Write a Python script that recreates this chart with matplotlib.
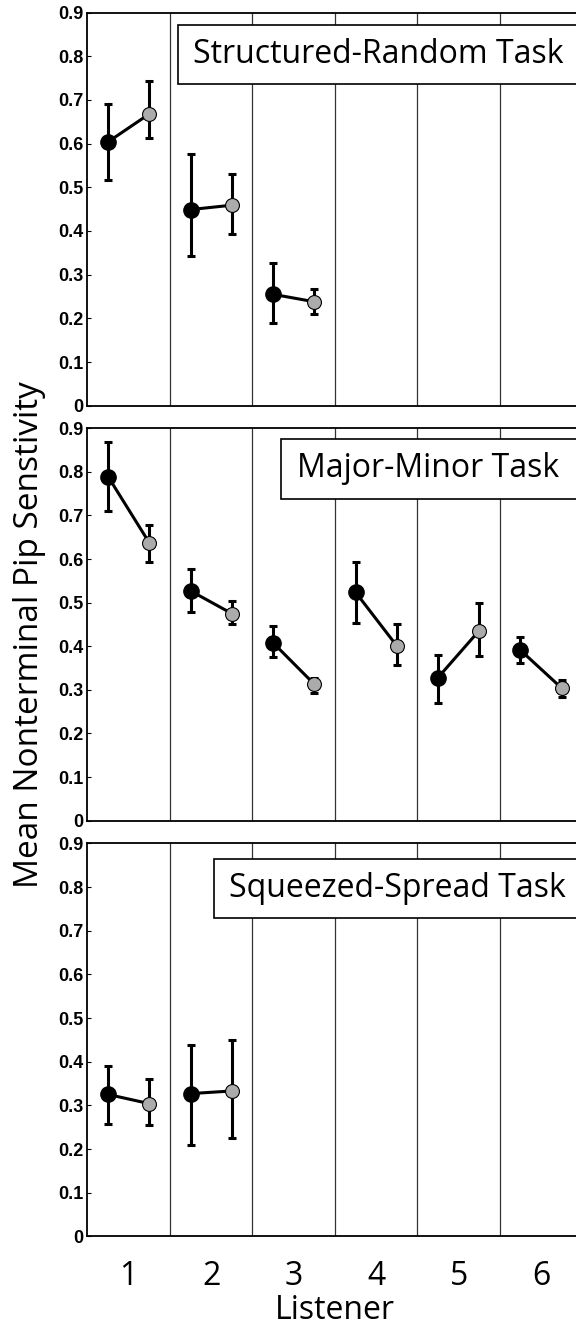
import matplotlib
matplotlib.use("Agg")
import matplotlib.pyplot as plt
from matplotlib.patches import Rectangle

# Listener numbers and task names
listeners = [1, 2, 3, 4, 5, 6]
tasks = ["Structured-Random Task", "Major-Minor Task", "Squeezed-Spread Task"]

# Structured-Random task (listeners 1-3)
sr_first = [0.604, 0.449, 0.255]
sr_first_lo = [0.516, 0.343, 0.189]
sr_first_hi = [0.691, 0.576, 0.326]
sr_second = [0.668, 0.459, 0.238]
sr_second_lo = [0.613, 0.393, 0.211]
sr_second_hi = [0.744, 0.530, 0.268]

# Major-Minor task (listeners 1-6)
mm_first = [0.789, 0.527, 0.408, 0.524, 0.328, 0.391]
mm_first_lo = [0.710, 0.479, 0.375, 0.453, 0.270, 0.361]
mm_first_hi = [0.868, 0.577, 0.447, 0.594, 0.379, 0.422]
mm_second = [0.637, 0.475, 0.313, 0.401, 0.436, 0.304]
mm_second_lo = [0.594, 0.450, 0.292, 0.356, 0.378, 0.284]
mm_second_hi = [0.679, 0.503, 0.328, 0.451, 0.499, 0.323]

# Squeezed-Spread task (listeners 1-2)
ss_first = [0.325, 0.327]
ss_first_lo = [0.258, 0.210]
ss_first_hi = [0.391, 0.438]
ss_second = [0.304, 0.333]
ss_second_lo = [0.255, 0.226]
ss_second_hi = [0.361, 0.450]

yticks = [0, 0.1, 0.2, 0.3, 0.4, 0.5, 0.6, 0.7, 0.8, 0.9]
ytick_labels = ["0", "0.1", "0.2", "0.3", "0.4", "0.5", "0.6", "0.7", "0.8", "0.9"]

panels = [
    (sr_first, sr_first_lo, sr_first_hi, sr_second, sr_second_lo, sr_second_hi),
    (mm_first, mm_first_lo, mm_first_hi, mm_second, mm_second_lo, mm_second_hi),
    (ss_first, ss_first_lo, ss_first_hi, ss_second, ss_second_lo, ss_second_hi),
]

# panel geometry: [left, bottom, width, height] in figure fractions
positions = [
    [0.1519, 0.6954, 0.859, 0.2952],
    [0.1519, 0.3839, 0.859, 0.2946],
    [0.1519, 0.0718, 0.859, 0.2950],
]
# label box: (box left, box bottom, box top, text left) in axes fractions
boxes = [
    (0.182, 0.818, 0.968, 0.213),
    (0.392, 0.820, 0.973, 0.423),
    (0.2556, 0.810, 0.960, 0.286),
]

label_font = "Open Sans"
off = 0.25

fig = plt.figure(figsize=(5.76, 13.32), dpi=100)

for i, (pdata, pos, bx, task) in enumerate(zip(panels, positions, boxes, tasks)):
    f, flo, fhi, s, slo, shi = pdata
    ax = fig.add_axes(pos)
    n = len(f)
    xs = listeners[:n]
    for k in range(n):
        x1 = xs[k] - off
        x2 = xs[k] + off
        ax.plot([x1, x2], [f[k], s[k]], color="black", lw=2.2, zorder=2)
        ax.errorbar([x1], [f[k]], yerr=[[f[k] - flo[k]], [fhi[k] - f[k]]],
                    fmt="none", ecolor="black", elinewidth=2.2, capsize=3.2,
                    capthick=2.2, zorder=3)
        ax.errorbar([x2], [s[k]], yerr=[[s[k] - slo[k]], [shi[k] - s[k]]],
                    fmt="none", ecolor="black", elinewidth=2.2, capsize=3.2,
                    capthick=2.2, zorder=3)
        ax.plot([x1], [f[k]], "o", ms=11, mfc="black", mec="black", zorder=4)
        ax.plot([x2], [s[k]], "o", ms=10, mfc="#ababab", mec="black",
                mew=0.8, zorder=4)

    for b in range(1, 6):
        ax.axvline(b + 0.5, color="#333333", lw=0.9, zorder=1)

    ax.set_xlim(0.5, 6.5)
    ax.set_ylim(0, 0.9)
    ax.set_yticks(yticks)
    ax.set_yticklabels(ytick_labels, fontsize=13, fontweight="bold",
                       family="Liberation Sans")
    ax.tick_params(axis="y", direction="in", length=3, width=0.8, pad=3)
    ax.set_xticks(listeners)
    if i == 2:
        ax.set_xticklabels([str(v) for v in listeners], fontsize=23,
                           family=label_font)
        ax.tick_params(axis="x", length=0, pad=17)
        ax.set_xlabel("Listener", fontsize=23, family=label_font, labelpad=1)
    else:
        ax.tick_params(axis="x", length=0, labelbottom=False)
    for sp in ax.spines.values():
        sp.set_linewidth(1.3)

    bl, bb, bt, tl = bx
    ax.add_patch(Rectangle((bl, bb), 1.2 - bl, bt - bb, transform=ax.transAxes,
                           facecolor="white", edgecolor="black", lw=1.2,
                           zorder=5, clip_on=False))
    ax.text(tl, (bb + bt) / 2, task, transform=ax.transAxes, fontsize=23,
            family=label_font, va="center", ha="left", zorder=6)

fig.text(0.052, 0.5235, "Mean Nonterminal Pip Senstivity", rotation=90,
         fontsize=24, family=label_font, va="center", ha="center")

fig.savefig("out.png", dpi=100)
